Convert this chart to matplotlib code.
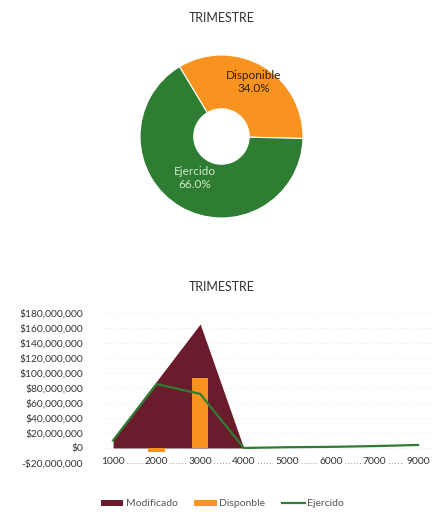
import matplotlib
matplotlib.use("Agg")
import matplotlib.pyplot as plt
from matplotlib.ticker import FuncFormatter
import numpy as np

plt.rcParams['font.family'] = ['Lato', 'DejaVu Sans']

# ---- data ----
pie_labels = ["Disponible", "Ejercido"]
pie_values = [34.0, 66.0]

categories = ["1000", "2000", "3000", "4000", "5000", "6000", "7000", "9000"]
modificado = [13e6, 89e6, 165e6, 0, 0, 0, 0, 0]
disponible = [0, -5e6, 93e6, 0, 0, 0, 0, 0]
ejercido = [10e6, 85e6, 72e6, 0, 1e6, 1.5e6, 2.5e6, 4e6]
legend_labels = ["Modificado", "Disponble", "Ejercido"]
yticks = np.arange(-20e6, 180e6 + 1, 20e6)

C_GREEN = "#2e7d32"
C_ORANGE = "#f7931e"
C_MAROON = "#6b1c2c"

W, H = 437, 512
fig = plt.figure(figsize=(W / 100, H / 100), dpi=100)

# ---- donut ----
cx, cy, r = 221.5, 136.5, 81.5
half = r * 1.05
axp = fig.add_axes([(cx - half) / W, (H - cy - half) / H, 2 * half / W, 2 * half / H])
wedges, _ = axp.pie(pie_values, colors=[C_ORANGE, C_GREEN], startangle=121,
                    counterclock=False,
                    wedgeprops=dict(width=0.66, edgecolor="white", linewidth=0.8))
axp.set_xlim(-1.05, 1.05)
axp.set_ylim(-1.05, 1.05)
axp.set_aspect('equal')
axp.text(0.39, 0.67, f"{pie_labels[0]}\n{pie_values[0]:.1f}%", ha='center', va='center',
         fontsize=8.5, color="#2e2210", linespacing=1.2)
axp.text(-0.33, -0.51, f"{pie_labels[1]}\n{pie_values[1]:.1f}%", ha='center', va='center',
         fontsize=8.5, color="#cfe8c8", linespacing=1.2)
fig.text(222 / W, 1 - 18 / H, "TRIMESTRE", ha='center', va='center', fontsize=9, color="#333333")

# ---- combo chart ----
left, right, top, bottom = 100, 431, 312.7, 463
ax = fig.add_axes([left / W, (H - bottom) / H, (right - left) / W, (bottom - top) / H])
x = np.arange(len(categories))
ax.fill_between(x, 0, modificado, color=C_MAROON, linewidth=0, zorder=2, label=legend_labels[0])
ax.bar(x, disponible, width=0.38, color=C_ORANGE, zorder=3, label=legend_labels[1])
ax.plot(x, ejercido, color=C_GREEN, linewidth=1.6, zorder=4, label=legend_labels[2])

ax.set_xlim(-0.3, len(categories) - 0.7)
ax.set_ylim(-20e6, 180e6)
ax.set_yticks(yticks)
ax.yaxis.set_major_formatter(FuncFormatter(lambda v, p: ("-$" if v < 0 else "$") + f"{abs(v):,.0f}"))
ax.set_xticks(x)
ax.set_xticklabels(categories)
for s in ax.spines.values():
    s.set_visible(False)
ax.grid(axis='y', color="#e2e2e2", linestyle=(0, (1, 3)), linewidth=0.6, zorder=0)
ax.set_axisbelow(True)
ax.tick_params(axis='y', length=0, pad=12, labelsize=7.4, labelcolor="#333333")
ax.tick_params(axis='x', length=0, pad=-4.5, labelsize=7.4, labelcolor="#333333")
for lbl in ax.get_xticklabels():
    lbl.set_bbox(dict(facecolor='white', edgecolor='none', pad=1.5))
# dotted baseline through x labels
ax.axhline(-20e6, color="#999999", linestyle=(0, (1, 2)), linewidth=0.7, zorder=0, clip_on=False)
fig.text(222 / W, 1 - 287 / H, "TRIMESTRE", ha='center', va='center', fontsize=9, color="#333333")

handles, labels = ax.get_legend_handles_labels()
order = [labels.index(l) for l in legend_labels]
fig.legend([handles[i] for i in order], [labels[i] for i in order],
           loc='center', bbox_to_anchor=(222 / W, 1 - 504 / H), ncol=3, frameon=False,
           fontsize=7.5, handlelength=2.2, handleheight=0.6, columnspacing=1.6,
           handletextpad=0.2, labelcolor="#555555")

fig.savefig("out.png", dpi=100)
